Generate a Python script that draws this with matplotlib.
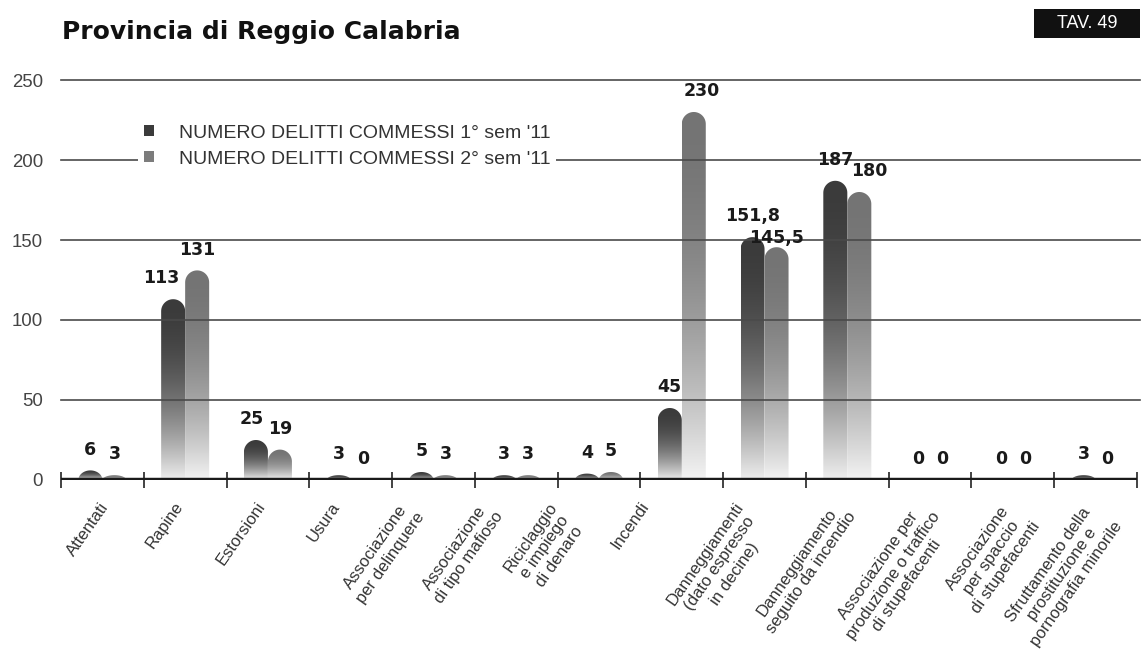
import numpy as np
import matplotlib
matplotlib.use("Agg")
import matplotlib.pyplot as plt
from matplotlib.path import Path
from matplotlib.patches import PathPatch, Patch, Rectangle

# data
categories = [
    "Attentati",
    "Rapine",
    "Estorsioni",
    "Usura",
    "Associazione\nper delinquere",
    "Associazione\ndi tipo mafioso",
    "Riciclaggio\ne impiego\ndi denaro",
    "Incendi",
    "Danneggiamenti\n(dato espresso\nin decine)",
    "Danneggiamento\nseguito da incendio",
    "Associazione per\nproduzione o traffico\ndi stupefacenti",
    "Associazione\nper spaccio\ndi stupefacenti",
    "Sfruttamento della\nprostituzione e\npornografia minorile",
]
sem1 = [6, 113, 25, 3, 5, 3, 4, 45, 151.8, 187, 0, 0, 3]
sem2 = [3, 131, 19, 0, 3, 3, 5, 230, 145.5, 180, 0, 0, 0]
series_names = ["NUMERO DELITTI COMMESSI 1° sem '11",
                "NUMERO DELITTI COMMESSI 2° sem '11"]
yticks = [0, 50, 100, 150, 200, 250]

# layout bits (pixels)
W, H = 1142, 662
AX_L, AX_B, AX_W, AX_H = 61, 182, 1076, 400
BAR_W = 0.29
top_colors = ["#3b3b3b", "#747474"]
# hand placement of the category labels in the original (px)
cat_nudge = [-3, -11, -12, -20, -33, -37, -51, -42, -30, -15, -14, -11, -11]
# a few value labels are not centred in the original (px)
val_nudge = {(1, 0): (-12, 0), (2, 0): (-4, 0), (7, 1): (8, 0),
             (8, 1): (0, -12), (9, 1): (10, 0)}

def fmt(v):
    return f"{v:g}".replace(".", ",")

def bar_path(x0, x1, v, ry):
    xc = (x0 + x1) / 2
    rx = (x1 - x0) / 2
    if v >= ry:
        base, r = v - ry, ry
    else:
        base, r = 0, v
    th = np.linspace(np.pi, 0, 40)
    arc = np.column_stack([xc + rx * np.cos(th), base + r * np.sin(th)])
    verts = np.vstack([[x0, 0], arc, [x1, 0], [x0, 0]])
    codes = [Path.MOVETO] + [Path.LINETO] * (len(verts) - 2) + [Path.CLOSEPOLY]
    return Path(verts, codes)

def gradient(color, n=256):
    rgb = np.array(matplotlib.colors.to_rgb(color))
    t = np.linspace(0, 1, n)
    a = 0.08 + 0.92 * (1 - (1 - t) ** 2)
    img = 1 - a[:, None] * (1 - rgb[None, :])
    return img[:, None, :]

def main():
    fig = plt.figure(figsize=(W / 100, H / 100), dpi=100)
    ax = fig.add_axes([AX_L / W, AX_B / H, AX_W / W, AX_H / H])
    n = len(categories)
    ax.set_xlim(0, n)
    ax.set_ylim(0, 250)

    px_x = AX_W / n
    px_y = AX_H / 250
    ry = (BAR_W / 2) * px_x / px_y

    for s, vals in enumerate([sem1, sem2]):
        for i, v in enumerate(vals):
            x0 = i + 0.5 - BAR_W + s * BAR_W
            x1 = x0 + BAR_W
            if v > 0:
                patch = PathPatch(bar_path(x0, x1, v, ry), fc="none", ec="none")
                ax.add_patch(patch)
                im = ax.imshow(gradient(top_colors[s]), extent=[x0, x1, 0, v],
                               origin="lower", aspect="auto", zorder=2,
                               interpolation="bilinear")
                im.set_clip_path(patch)
            dx, dy = val_nudge.get((i, s), (0, 0))
            ax.annotate(fmt(v), (x0 + BAR_W / 2, v),
                        xytext=(dx * 0.72, 8.5 + dy * 0.72),
                        textcoords="offset points", ha="center", va="bottom",
                        fontsize=12.5, fontweight="bold", color="#1a1a1a",
                        family="DejaVu Sans", zorder=6)

    for y in yticks[1:]:
        ax.axhline(y, xmin=0, xmax=1.003, color="#4a4a4a", lw=1.2,
                   zorder=3, clip_on=False)
    ax.axhline(0, color="#1a1a1a", lw=3.2, zorder=4)

    for sp in ax.spines.values():
        sp.set_visible(False)
    ax.set_xticks(range(n + 1))
    ax.tick_params(axis="x", direction="inout", length=12, width=1.2,
                   color="#222222", labelbottom=False)
    ax.set_yticks(yticks)
    ax.set_yticklabels([str(y) for y in yticks])
    ax.tick_params(axis="y", length=0, pad=13, labelsize=13.4,
                   labelcolor="#444444")
    for lab in ax.get_yticklabels():
        lab.set_family("Liberation Sans")

    for i, lab in enumerate(categories):
        ax.annotate(lab, (i + 0.5, 0), xytext=(cat_nudge[i] * 0.72, -14),
                    textcoords="offset points", rotation=55,
                    rotation_mode="anchor", ha="right", va="top",
                    multialignment="center", fontsize=12, color="#333333",
                    family="Liberation Sans", annotation_clip=False)

    handles = [Patch(fc=top_colors[0], ec="none"), Patch(fc="#7c7c7c", ec="none")]
    leg = ax.legend(handles, series_names, loc="upper left",
                    bbox_to_anchor=(138 / W, 1 - 119 / H),
                    bbox_transform=fig.transFigure, frameon=True,
                    facecolor="white", edgecolor="none", framealpha=1,
                    fancybox=False, handlelength=0.5, handleheight=0.5,
                    handletextpad=1.3, labelspacing=0.45, borderpad=0.3,
                    borderaxespad=0,
                    prop={"family": "Liberation Sans", "size": 14})
    for t in leg.get_texts():
        t.set_color("#333333")
    leg.set_zorder(7)

    fig.text(62 / W, 1 - 32 / H, "Provincia di Reggio Calabria",
             va="center", ha="left", fontsize=18, fontweight="bold",
             family="DejaVu Sans", color="#111111")
    fig.patches.append(Rectangle((1034 / W, 1 - 38 / H), 106 / W, 29 / H,
                                 transform=fig.transFigure, fc="#111111",
                                 ec="none"))
    fig.text(1087 / W, 1 - 24 / H, "TAV. 49", va="center", ha="center",
             fontsize=13, color="white", family="Liberation Sans")

    fig.savefig("out.png", dpi=100, facecolor="white")

if __name__ == "__main__":
    main()
